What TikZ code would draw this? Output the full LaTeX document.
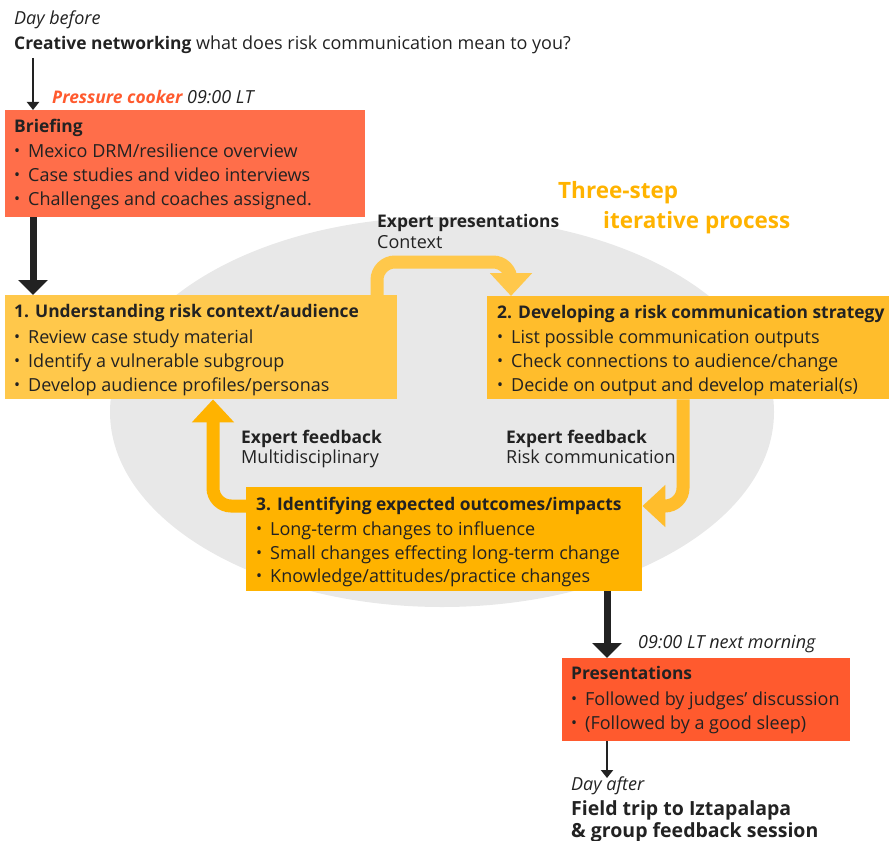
\documentclass[tikz,border=0pt]{standalone}
\usepackage{fontspec}
\setmainfont{Open Sans}
\usetikzlibrary{arrows.meta}
\definecolor{ink}{HTML}{222222}
\definecolor{coralA}{HTML}{FF6E4A}
\definecolor{coralB}{HTML}{FF5A2E}
\definecolor{yA}{HTML}{FFC84B}
\definecolor{yB}{HTML}{FFBD2C}
\definecolor{yC}{HTML}{FFB300}
\definecolor{ellgray}{HTML}{E8E8E8}
\tikzset{
  box/.style={draw=none, rectangle, inner sep=0, anchor=north west},
  txt/.style={inner sep=0, anchor=base west, text=ink, font=\fontsize{18}{21}\selectfont},
  bold/.style={txt, font=\fontsize{17.4}{21}\selectfont\bfseries},
  ital/.style={txt, font=\fontsize{18}{21}\selectfont\itshape},
  bigbold/.style={txt, font=\fontsize{19.5}{22}\selectfont\bfseries},
  big/.style={inner sep=0, anchor=base west, text=yC, font=\fontsize{22.5}{26}\selectfont\bfseries},
  oarrow/.style={line width=13pt, rounded corners=18pt, -{Triangle[width=41pt,length=23pt]}},
  karrow/.style={draw=ink, line width=7pt, -{Triangle[width=29pt,length=15pt]}},
  tarrow/.style={draw=ink, line width=2pt, -{Triangle[width=12pt,length=8pt]}},
}
\newcommand{\bul}{\makebox[14pt][l]{\raisebox{0.5pt}{\fontsize{16}{16}\selectfont\textbullet}}}
\begin{document}
\begin{tikzpicture}[x=1pt,y=-1pt]
\useasboundingbox (0,0) rectangle (890,840);
% background ellipse
\fill[ellgray] (442,412) ellipse [x radius=332, y radius=195];

% top texts
\node[ital] (daybefore) at (14,25) {Day before};
\node[txt] (creative) at (14,50) {{\fontsize{17.4}{21}\selectfont\bfseries Creative networking} what does risk communication mean to you?};
\node[txt] (pressure) at (52,103) {\textcolor{coralB}{\fontsize{17.4}{21}\selectfont\bfseries\itshape Pressure cooker} \itshape 09:00 LT};

% boxes
\node[box, fill=coralA, minimum width=360pt, minimum height=107pt] (brief) at (5,110) {};
\node[box, fill=yA, minimum width=392pt, minimum height=104pt] (b1) at (5,295) {};
\node[box, fill=yB, minimum width=402pt, minimum height=103pt] (b2) at (487,296) {};
\node[box, fill=yC, minimum width=396pt, minimum height=104pt] (b3) at (246,487) {};
\node[box, fill=coralB, minimum width=288pt, minimum height=83pt] (pres) at (562,658) {};

% briefing text
\node[bold] (brieft) at (14,132) {Briefing};
\node[txt] (brief1) at (14,157) {\bul Mexico DRM/resilience overview};
\node[txt] (brief2) at (14,181) {\bul Case studies and video interviews};
\node[txt] (brief3) at (14,205) {\bul Challenges and coaches assigned.};

% box 1 text
\node[bold] (b1t) at (14,317) {1. Understanding risk context/audience};
\node[txt] (b1a) at (14,343) {\bul Review case study material};
\node[txt] (b1b) at (14,367) {\bul Identify a vulnerable subgroup};
\node[txt] (b1c) at (14,391) {\bul Develop audience profiles/personas};

% box 2 text
\node[bold] (b2t) at (497,318) {2. Developing a risk communication strategy};
\node[txt] (b2a) at (497,343) {\bul List possible communication outputs};
\node[txt] (b2b) at (497,367) {\bul Check connections to audience/change};
\node[txt] (b2c) at (497,391) {\bul Decide on output and develop material(s)};

% box 3 text
\node[bold] (b3t) at (256,510) {3. Identifying expected outcomes/impacts};
\node[txt] (b3a) at (256,535) {\bul Long-term changes to influence};
\node[txt] (b3b) at (256,559) {\bul Small changes effecting long-term change};
\node[txt] (b3c) at (256,582) {\bul Knowledge/attitudes/practice changes};

% presentations text
\node[bold] (prest) at (571,679) {Presentations};
\node[txt] (pres1) at (571,705) {\bul Followed by judges' discussion};
\node[txt] (pres2) at (571,729) {\bul (Followed by a good sleep)};

% labels
\node[big] (three) at (558,198) {Three-step};
\node[big] (iter) at (603,228) {iterative process};
\node[bold] (exppres) at (377,227) {Expert presentations};
\node[txt] (context) at (377,248) {Context};
\node[bold] (expfb1) at (241,443) {Expert feedback};
\node[txt] (multi) at (241,463) {Multidisciplinary};
\node[bold] (expfb2) at (506,443) {Expert feedback};
\node[txt] (riskc) at (506,463) {Risk communication};
\node[ital] (nextm) at (638,648) {09:00 LT next morning};
\node[ital] (dayafter) at (571,790) {Day after};
\node[bigbold] (field) at (571,815) {Field trip to Iztapalapa};
\node[bigbold] (group) at (571,837) {\& group feedback session};

% helper coordinates
\coordinate (xa) at (377,0);
\coordinate (ya) at (0,262);
\coordinate (xb) at (511,0);
\coordinate (xc) at (683,0);
\coordinate (yc) at (0,506);
\coordinate (xd) at (213,0);
\coordinate (xk1) at (33,0);
\coordinate (xk2) at (607,0);
\coordinate (xt1) at (33,0);
\coordinate (xt2) at (607,0);
\coordinate (yt1) at (0,58);
\coordinate (yt2) at (0,778);

% orange arrows
\draw[oarrow, draw=yA] (b1.north -| xa) -- (xa |- ya) -- (xb |- ya) -- (b2.north -| xb);
\draw[oarrow, draw=yB] (b2.south -| xc) -- (xc |- yc) -- (b3.east |- yc);
\draw[oarrow, draw=yC] (b3.west |- yc) -- (xd |- yc) -- (b1.south -| xd);

% black arrows
\draw[karrow] (brief.south -| xk1) -- (b1.north -| xk1);
\draw[karrow] (b3.south -| xk2) -- (pres.north -| xk2);
\draw[tarrow] (xt1 |- yt1) -- (brief.north -| xt1);
\draw[tarrow] (pres.south -| xt2) -- (xt2 |- yt2);
\end{tikzpicture}
\end{document}
